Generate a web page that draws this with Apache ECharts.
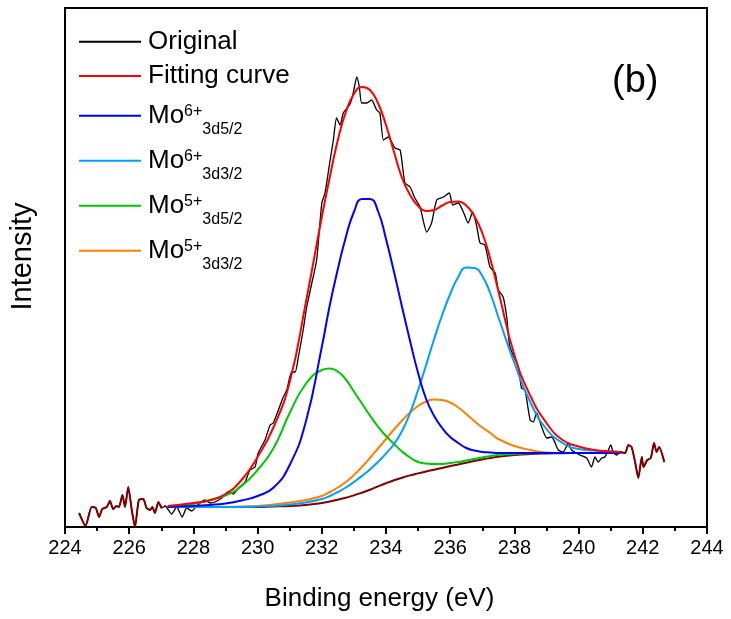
<!DOCTYPE html>
<html>
<head>
<meta charset="utf-8">
<script src="https://cdn.jsdelivr.net/npm/echarts@6.0.0/dist/echarts.min.js"></script>
<style>
  html, body { margin: 0; padding: 0; background: #fff; }
  #main { width: 731px; height: 619px; }
</style>
</head>
<body>
<div id="main"></div>
<script>
// Mo 3d XPS spectrum, panel (b). Intensity in arbitrary units.
var energy = [227.2, 227.5, 228, 228.5, 229, 229.5, 230, 230.5, 231, 231.5, 232, 232.25,
  232.5, 232.75, 233, 233.25, 233.5, 233.75, 234, 234.25, 234.5, 234.75, 235, 235.25,
  235.5, 235.75, 236, 236.25, 236.5, 236.75, 237, 237.25, 237.5, 238, 238.5, 239, 239.5,
  240, 240.5, 241, 241.3];

var background = [20, 20, 20, 20, 20, 20, 20, 20.5, 21, 22, 24, 25.5, 27.3, 29.3, 31.6,
  34.3, 37.3, 40.6, 43.8, 46.7, 49.3, 51.6, 53.6, 55.5, 57.3, 59.1, 60.9, 62.6, 64.3, 66,
  67.6, 69, 70.3, 72, 73, 73.5, 73.8, 74, 74, 74, 74];

var mo6_3d52 = [20, 20.5, 21, 22, 23.5, 26.5, 31, 39.5, 62, 105, 180, 222, 258, 290, 315,
  328, 328, 316, 288, 255, 220, 186, 154, 128, 111, 99, 90, 84, 79, 76.5, 75, 74.5, 74, 74,
  74, 74, 74, 74, 74, 74, 74];

var mo6_3d32 = [20, 20, 20, 20, 20, 20, 20.5, 21, 22.5, 24.5, 28, 31, 35, 39.5, 45, 51,
  57.5, 65, 73.5, 83, 96, 114, 137, 162, 188, 212, 233, 250, 259.5, 259, 251, 233.5, 210,
  164, 124.5, 98, 84, 78, 76.5, 75.5, 75];

var mo5_3d52 = [20, 21, 23, 27, 31.5, 41, 57, 79, 114, 143, 157, 158.5, 155.5, 147.5, 135.5,
  123.5, 111.5, 100.5, 91, 83, 75.5, 69.5, 65, 63.5, 63, 63, 64, 65, 66.5, 68, 69.5, 71, 72,
  73, 73.7, 74, 74, 74, 74, 74, 74];

var mo5_3d32 = [20, 20, 20, 20, 20, 20.5, 21, 22.5, 24.5, 27, 31, 35, 39.5, 45, 52, 60, 69,
  78.5, 88, 97.5, 106.5, 114.5, 121, 125.5, 127.5, 127, 124.5, 119.5, 113, 106, 99.5, 94,
  88, 81, 77, 74.5, 74, 74, 74, 74, 74];

var fitting = [21, 22, 24, 26.5, 33, 47, 70, 100, 145, 224, 310, 350, 387, 415, 433, 440,
  437, 424, 402, 375, 349, 332, 321, 316, 317, 321.5, 325, 325.5, 321.5, 311, 294, 268, 236,
  172, 131, 104, 87, 80.5, 77, 75.5, 75];

var origEnergy = [224.44, 224.64, 224.83, 224.96, 225.06, 225.16, 225.30, 225.40, 225.50,
  225.61, 225.68, 225.79, 225.87, 225.97, 226.08, 226.18, 226.30, 226.44, 226.54, 226.65,
  226.72, 226.80, 226.91, 227.01, 227.12, 227.32, 227.48, 227.65, 227.79, 227.95, 228.10,
  228.36, 228.52, 228.67, 228.88, 229.09, 229.24, 229.40, 229.61, 229.76, 229.92, 230.02,
  230.23, 230.39, 230.49, 230.80, 230.91, 231.06, 231.17, 231.27, 231.42, 231.53, 231.69,
  231.84, 232.00, 232.10, 232.26, 232.36, 232.46, 232.57, 232.67, 232.88, 232.98, 233.09,
  233.17, 233.24, 233.40, 233.55, 233.71, 233.81, 233.92, 234.07, 234.28, 234.44, 234.59,
  234.75, 234.90, 235.06, 235.27, 235.42, 235.58, 235.79, 235.97, 236.08, 236.25, 236.41,
  236.56, 236.70, 236.83, 236.93, 237.08, 237.24, 237.40, 237.50, 237.65, 237.76, 237.86,
  238.12, 238.22, 238.33, 238.49, 238.59, 238.69, 238.85, 239.01, 239.16, 239.37, 239.52,
  239.68, 239.78, 240.04, 240.25, 240.40, 240.51, 240.61, 240.72, 240.82, 240.93, 241.00,
  241.09, 241.19, 241.29, 241.45, 241.55, 241.65, 241.76, 241.86, 241.97, 242.02, 242.14,
  242.25, 242.35, 242.43, 242.51, 242.67];

var origIntensity = [14, 1, 20, 19, 10, 18, 20, 26, 18, 21, 20, 32, 20, 40, 17, 0, 27, 28,
  19, 17, 20, 14, 25, 19, 21, 13, 20, 10, 19, 16, 21, 27, 24, 25, 29, 35, 33, 39, 45, 57,
  60, 74, 87, 102, 104, 130, 137, 155, 155, 170, 197, 220, 244, 267, 324, 334, 367, 387,
  409, 402, 414, 423, 434, 450, 440, 424, 424, 427, 417, 414, 387, 390, 379, 377, 344, 340,
  329, 320, 295, 304, 327, 330, 334, 322, 324, 315, 304, 315, 300, 284, 282, 260, 254, 237,
  230, 210, 180, 160, 139, 137, 107, 105, 114, 100, 89, 90, 77, 75, 84, 77, 72, 69, 60, 70,
  65, 69, 70, 77, 82, 74, 72, 75, 74, 82, 80, 65, 49, 70, 60, 67, 69, 84, 75, 80, 65];

// fitted region of the scan; outside it the raw data is overdrawn in the background colour
var fitStart = 227.05;
var fitEnd = 241.25;

var legendNames = ['Original', 'Fitting curve', 'Mo6+ 3d5/2', 'Mo6+ 3d3/2', 'Mo5+ 3d5/2', 'Mo5+ 3d3/2'];

var FONT = '"Liberation Sans", Arial, sans-serif';

function pairs(xs, ys) {
  return xs.map(function (x, i) { return [x, ys[i]]; });
}

var ends = origEnergy.map(function (x, i) {
  return [x, (x <= fitStart || x >= fitEnd) ? origIntensity[i] : null];
});

function curve(name, data, color, width, smooth) {
  return {
    name: name,
    type: 'line',
    data: data,
    smooth: smooth,
    symbol: 'none',
    silent: true,
    lineStyle: { color: color, width: width },
    itemStyle: { color: color }
  };
}

var chart = echarts.init(document.getElementById('main'));

chart.setOption({
  animation: false,
  textStyle: { fontFamily: FONT },
  grid: {
    left: 65, right: 24, top: 8, bottom: 92,
    show: true, borderColor: '#000', borderWidth: 2,
    outerBoundsMode: 'none'
  },
  legend: {
    data: legendNames,
    orient: 'vertical',
    left: 73,
    top: 20,
    itemWidth: 62,
    itemHeight: 14,
    itemGap: 1,
    selectedMode: false,
    itemStyle: { opacity: 0 },
    formatter: function (name) {
      var m = name.match(/^Mo(\S+) (\S+)$/);
      if (m) return '{mo|Mo}{sup|' + m[1] + '}{sub|' + m[2] + '}';
      return '{plain|' + name + '}{pad| }';
    },
    textStyle: {
      color: '#000',
      fontFamily: FONT,
      rich: {
        plain: { fontSize: 26, padding: [0, 0, 0, 2], fontFamily: FONT },
        pad: { fontSize: 16, lineHeight: 16, verticalAlign: 'middle', padding: [17.4, 0, 0, 0], fontFamily: FONT },
        mo: { fontSize: 26, lineHeight: 40, padding: [0, 0, 0, 2], fontFamily: FONT },
        sup: { fontSize: 16, lineHeight: 16, verticalAlign: 'middle', padding: [0, 0, 8, 0], fontFamily: FONT },
        sub: { fontSize: 16, lineHeight: 16, verticalAlign: 'middle', padding: [28, 0, 0, 0], fontFamily: FONT }
      }
    }
  },
  xAxis: {
    type: 'value',
    min: 224,
    max: 244,
    interval: 2,
    name: 'Binding energy (eV)',
    nameLocation: 'middle',
    nameGap: 59,
    nameTextStyle: { fontSize: 26, color: '#000', fontFamily: FONT, padding: [0, 13, 0, 0] },
    axisLine: { show: true, onZero: false, lineStyle: { color: '#000', width: 2 } },
    axisTick: { show: true, inside: false, length: 7, lineStyle: { color: '#000', width: 2 } },
    minorTick: { show: true, splitNumber: 2, length: 4, lineStyle: { color: '#000', width: 2 } },
    axisLabel: { fontSize: 20, color: '#000', margin: 11, fontFamily: FONT },
    splitLine: { show: false },
    minorSplitLine: { show: false }
  },
  yAxis: {
    type: 'value',
    min: 0,
    max: 519,
    name: 'Intensity',
    nameLocation: 'middle',
    nameGap: 28,
    nameRotate: 90,
    nameTextStyle: { fontSize: 29, color: '#000', fontFamily: FONT, padding: [0, 0, 0, 22] },
    axisLine: { show: true, lineStyle: { color: '#000', width: 2 } },
    axisTick: { show: false },
    axisLabel: { show: false },
    splitLine: { show: false }
  },
  graphic: [{
    type: 'text',
    left: 612,
    top: 63,
    style: { text: '(b)', fontSize: 38, fill: '#000', fontFamily: FONT }
  }],
  series: [
    curve('Original', pairs(origEnergy, origIntensity), '#000000', 1.3, 0.2),
    curve('Background', pairs(energy, background), '#800000', 2, true),
    curve('Mo5+ 3d3/2', pairs(energy, mo5_3d32), '#FF8000', 2, true),
    curve('Mo5+ 3d5/2', pairs(energy, mo5_3d52), '#00C800', 2, true),
    curve('Mo6+ 3d3/2', pairs(energy, mo6_3d32), '#00A0FF', 2, true),
    curve('Mo6+ 3d5/2', pairs(energy, mo6_3d52), '#0000FF', 2, true),
    curve('Fitting curve', pairs(energy, fitting), '#FF0000', 2, true),
    Object.assign(curve('Raw ends', ends, '#800000', 2, 0.2), { connectNulls: false })
  ]
});
</script>
</body>
</html>
